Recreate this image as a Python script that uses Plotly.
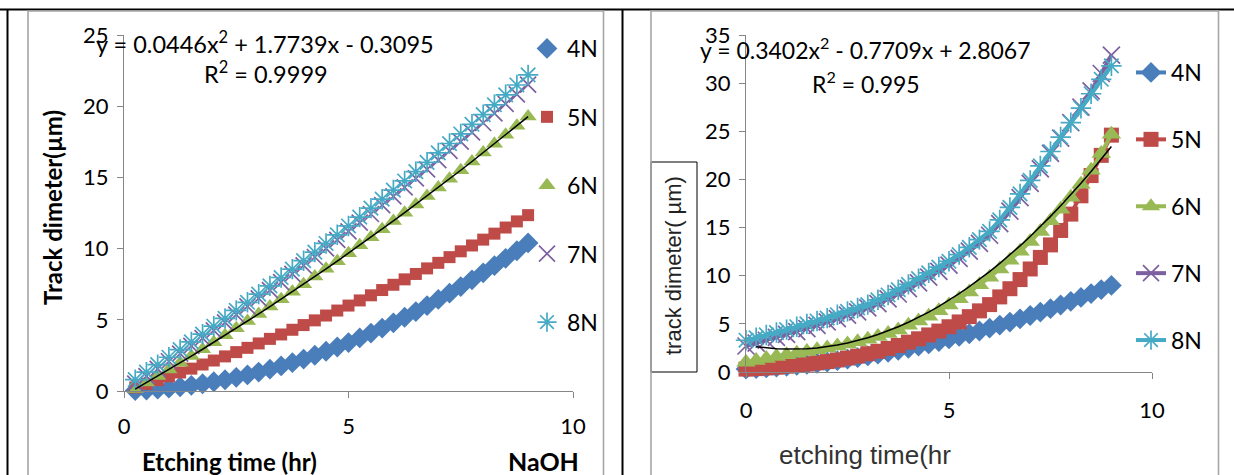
import numpy as np
import plotly.graph_objects as go

W, H = 1234, 475

# ---------------- data ----------------
series_names = ["4N", "5N", "6N", "7N", "8N"]

# Left chart (NaOH), etching time (hr)
x_left = [0.25, 0.5, 0.75, 1.0, 1.25, 1.5, 1.75, 2.0, 2.25, 2.5, 2.75, 3.0,
          3.25, 3.5, 3.75, 4.0, 4.25, 4.5, 4.75, 5.0, 5.25, 5.5, 5.75, 6.0,
          6.25, 6.5, 6.75, 7.0, 7.25, 7.5, 7.75, 8.0, 8.25, 8.5, 8.75, 9.0]
left_4N = [0.03, 0.07, 0.13, 0.20, 0.29, 0.40, 0.51, 0.65, 0.79, 0.96, 1.13, 1.33,
           1.53, 1.76, 1.99, 2.24, 2.51, 2.79, 3.09, 3.40, 3.73, 4.07, 4.42, 4.79,
           5.18, 5.58, 6.00, 6.43, 6.87, 7.33, 7.81, 8.30, 8.80, 9.32, 9.85, 10.40]
left_5N = [0.25, 0.50, 0.76, 1.03, 1.30, 1.57, 1.86, 2.14, 2.43, 2.73, 3.03, 3.34,
           3.66, 3.97, 4.30, 4.63, 4.96, 5.30, 5.65, 6.00, 6.36, 6.72, 7.09, 7.46,
           7.84, 8.22, 8.61, 9.00, 9.40, 9.81, 10.22, 10.63, 11.05, 11.48, 11.91, 12.35]
left_6N = [0.14, 0.59, 1.05, 1.51, 1.98, 2.45, 2.93, 3.42, 3.91, 4.40, 4.91, 5.41,
           5.93, 6.45, 6.97, 7.50, 8.04, 8.58, 9.12, 9.68, 10.23, 10.80, 11.36, 11.94,
           12.52, 13.10, 13.70, 14.29, 14.90, 15.50, 16.12, 16.74, 17.36, 17.99, 18.63, 19.27]
left_7N = [0.52, 1.04, 1.56, 2.09, 2.63, 3.17, 3.71, 4.26, 4.82, 5.37, 5.94, 6.50,
           7.08, 7.65, 8.23, 8.82, 9.41, 10.01, 10.61, 11.21, 11.82, 12.43, 13.05, 13.67,
           14.30, 14.93, 15.57, 16.21, 16.86, 17.51, 18.16, 18.82, 19.49, 20.16, 20.83, 21.51]
left_8N = [0.80, 1.32, 1.85, 2.37, 2.91, 3.45, 3.99, 4.55, 5.10, 5.66, 6.23, 6.80,
           7.38, 7.97, 8.56, 9.15, 9.75, 10.36, 10.97, 11.59, 12.21, 12.84, 13.47, 14.11,
           14.75, 15.40, 16.06, 16.72, 17.38, 18.05, 18.73, 19.41, 20.10, 20.80, 21.49, 22.20]
left_trend_coef = [0.0446, 1.7739, -0.3095]   # 6N polynomial trendline (as printed)

# Right chart, etching time (hr)
x_right = [0.0, 0.25, 0.5, 0.75, 1.0, 1.25, 1.5, 1.75, 2.0, 2.25, 2.5, 2.75, 3.0,
           3.25, 3.5, 3.75, 4.0, 4.25, 4.5, 4.75, 5.0, 5.25, 5.5, 5.75, 6.0,
           6.25, 6.5, 6.75, 7.0, 7.25, 7.5, 7.75, 8.0, 8.25, 8.5, 8.75, 9.0]
right_4N = [0.30, 0.36, 0.42, 0.50, 0.59, 0.68, 0.79, 0.91, 1.04, 1.18, 1.33, 1.49, 1.67,
            1.85, 2.04, 2.25, 2.46, 2.69, 2.92, 3.17, 3.43, 3.69, 3.97, 4.26, 4.56,
            4.87, 5.19, 5.52, 5.87, 6.22, 6.58, 6.96, 7.34, 7.74, 8.14, 8.56, 8.99]
right_5N = [0.30, 0.35, 0.42, 0.50, 0.60, 0.70, 0.82, 0.95, 1.08, 1.25, 1.45, 1.65, 1.90,
            2.15, 2.45, 2.75, 3.10, 3.45, 3.85, 4.25, 4.70, 5.20, 5.75, 6.35, 7.00,
            7.80, 8.65, 9.60, 10.70, 11.90, 13.20, 14.70, 16.40, 18.30, 20.40, 22.50, 24.60]
right_6N = [1.00, 1.20, 1.40, 1.60, 1.80, 1.95, 2.12, 2.30, 2.50, 2.70, 2.90, 3.14, 3.40,
            3.68, 4.00, 4.37, 4.85, 5.30, 5.80, 6.35, 6.95, 7.60, 8.30, 9.05, 9.85,
            10.70, 11.60, 12.55, 13.55, 14.60, 15.70, 16.90, 18.15, 19.50, 20.95, 22.70, 24.70]
right_7N = [2.70, 3.00, 3.30, 3.60, 3.90, 4.20, 4.50, 4.85, 5.20, 5.55, 5.90, 6.25, 6.65,
            7.10, 7.60, 8.10, 8.65, 9.25, 9.85, 10.45, 11.10, 11.80, 12.55, 13.35, 14.20,
            15.40, 16.70, 18.10, 19.60, 21.10, 22.70, 24.30, 25.90, 27.50, 29.20, 31.00, 32.90]
right_8N = [3.30, 3.55, 3.85, 4.10, 4.40, 4.70, 5.00, 5.30, 5.60, 5.95, 6.30, 6.65, 7.00,
            7.50, 8.00, 8.55, 9.10, 9.70, 10.30, 10.90, 11.50, 12.20, 12.95, 13.75, 14.60,
            15.80, 17.10, 18.50, 19.90, 21.40, 22.90, 24.40, 25.90, 27.40, 28.90, 30.40, 31.80]
right_trend_coef = [0.3402, -0.7709, 2.8067]  # 6N polynomial trendline (as printed)

left_eq = "y = 0.0446x<sup>2</sup> + 1.7739x - 0.3095"
left_r2 = "R<sup>2</sup> = 0.9999"
right_eq = "y = 0.3402x<sup>2</sup> - 0.7709x + 2.8067"
right_r2 = "R<sup>2</sup> = 0.995"

# ---------------- styles ----------------
colors = ["#4A7EBB", "#BE4B48", "#98B954", "#7D60A0", "#46AAC5"]
symbols = ["diamond", "square", "triangle-up", "x-thin", "asterisk-open"]
FONT = "Lato, Calibri, Carlito, sans-serif"
NARROW = "Liberation Sans Narrow, Arial Narrow, Liberation Sans, sans-serif"
AX = "#868686"


def px(x):
    return x / W


def py(y):
    return 1 - y / H


def marker_for(i, size):
    m = dict(symbol=symbols[i], size=size, color=colors[i])
    if symbols[i] in ("x-thin", "asterisk-open"):
        m["line"] = dict(color=colors[i], width=1.7)
    else:
        m["line"] = dict(width=0)
    return m


fig = go.Figure()

left_sets = [left_4N, left_5N, left_6N, left_7N, left_8N]
right_sets = [right_4N, right_5N, right_6N, right_7N, right_8N]
left_sizes = [16, 12, 15, 16, 17]
right_sizes = [16, 15, 17, 17, 17]

for i, name in enumerate(series_names):
    fig.add_trace(go.Scatter(
        x=x_left, y=left_sets[i], mode="markers", name=name,
        marker=marker_for(i, left_sizes[i]), xaxis="x", yaxis="y",
        legend="legend", legendgroup="L" + name, cliponaxis=False))

xl = np.array(x_left)
fig.add_trace(go.Scatter(
    x=x_left, y=np.polyval(left_trend_coef, xl), mode="lines",
    line=dict(color="black", width=1.5), showlegend=False, xaxis="x", yaxis="y"))

for i, name in enumerate(series_names):
    fig.add_trace(go.Scatter(
        x=x_right, y=right_sets[i], mode="lines+markers", name=name,
        marker=marker_for(i, right_sizes[i]),
        line=dict(color=colors[i], width=4),
        xaxis="x2", yaxis="y2", legend="legend2", legendgroup="R" + name,
        cliponaxis=False))

xr = np.array(x_right[1:])
fig.add_trace(go.Scatter(
    x=x_right[1:], y=np.polyval(right_trend_coef, xr), mode="lines",
    line=dict(color="black", width=1.5), showlegend=False, xaxis="x2", yaxis="y2"))

axis_common = dict(showgrid=False, zeroline=False, showline=True, linecolor=AX,
                   linewidth=1.3, ticks="outside", tickcolor=AX, ticklen=6,
                   tickwidth=1.3, tickfont=dict(family=FONT, size=22, color="black"),
                   dtick=5, automargin=False)

fig.update_layout(
    width=W, height=H,
    margin=dict(l=0, r=0, t=0, b=0, pad=0, autoexpand=False),
    paper_bgcolor="white", plot_bgcolor="rgba(0,0,0,0)",
    xaxis=dict(domain=[px(124), px(573)], range=[0, 10], anchor="y",
               ticklabelstandoff=9, **axis_common),
    yaxis=dict(domain=[py(391), py(35)], range=[0, 25], anchor="x",
               ticklabelstandoff=4, **axis_common),
    xaxis2=dict(domain=[px(746), px(1152)], range=[0, 10], anchor="y2",
                ticklabelstandoff=12, **axis_common),
    yaxis2=dict(domain=[py(372), py(35)], range=[0, 35], anchor="x2",
                ticklabelstandoff=4, **axis_common),
    legend=dict(x=px(527), y=py(27), xanchor="left", yanchor="top",
                font=dict(family=FONT, size=23, color="black"),
                tracegroupgap=35.5, bgcolor="rgba(0,0,0,0)", itemsizing="trace"),
    legend2=dict(x=px(1131), y=py(51), xanchor="left", yanchor="top",
                 font=dict(family=FONT, size=23, color="black"),
                 tracegroupgap=34, bgcolor="rgba(0,0,0,0)", itemsizing="trace"),
)

shapes = [
    # table borders (black)
    dict(type="line", x0=0, x1=1, y0=py(9.5), y1=py(9.5), line=dict(color="black", width=2)),
    dict(type="line", x0=px(7.5), x1=px(7.5), y0=py(9.5), y1=0, line=dict(color="black", width=2)),
    dict(type="line", x0=px(622.5), x1=px(622.5), y0=py(9.5), y1=0, line=dict(color="black", width=2)),
    # chart frames (grey)
    dict(type="path", path=f"M {px(28)} 0 L {px(28)} {py(11)} L {px(603.5)} {py(11)} L {px(603.5)} 0",
         line=dict(color="#A6A6A6", width=1.6)),
    dict(type="path", path=f"M {px(651)} 0 L {px(651)} {py(11)} L {px(1218.5)} {py(11)} L {px(1218.5)} 0",
         line=dict(color="#A6A6A6", width=1.6)),
    # boxed y title on right chart
    dict(type="rect", x0=px(651), x1=px(697), y0=py(372), y1=py(162),
         line=dict(color="black", width=1), fillcolor="white", layer="below"),
]
for s in shapes:
    s.setdefault("xref", "paper")
    s.setdefault("yref", "paper")
    s.setdefault("layer", "above")
fig.update_layout(shapes=shapes)

ann = [
    dict(x=px(265), y=py(42), text=left_eq, font=dict(family=FONT, size=23.5, color="black")),
    dict(x=px(266), y=py(73), text=left_r2, font=dict(family=FONT, size=23.5, color="black")),
    dict(x=px(865), y=py(48), text=right_eq, font=dict(family=FONT, size=23, color="black")),
    dict(x=px(866), y=py(82), text=right_r2, font=dict(family=FONT, size=23, color="black")),
    dict(x=px(52), y=py(208), text="<b>Track dimeter(µm)</b>", textangle=-90,
         font=dict(family=FONT, size=24, color="black")),
    dict(x=px(229), y=py(461), text="<b>Etching time (hr)</b>",
         font=dict(family=FONT, size=24, color="black")),
    dict(x=px(543), y=py(461), text="<b>NaOH</b>",
         font=dict(family=FONT, size=25, color="black")),
    dict(x=px(673), y=py(266), text="track dimeter( µm)", textangle=-90,
         font=dict(family=NARROW, size=22, color="#222222")),
    dict(x=px(865), y=py(455), text="etching time(hr",
         font=dict(family=NARROW, size=26, color="#333333")),
]
for a in ann:
    a.update(xref="paper", yref="paper", showarrow=False, xanchor="center", yanchor="middle")
fig.update_layout(annotations=ann)

fig.write_html("out.html", config={"displayModeBar": False},
               post_script="document.body.style.margin='0';document.body.style.overflow='hidden';")
